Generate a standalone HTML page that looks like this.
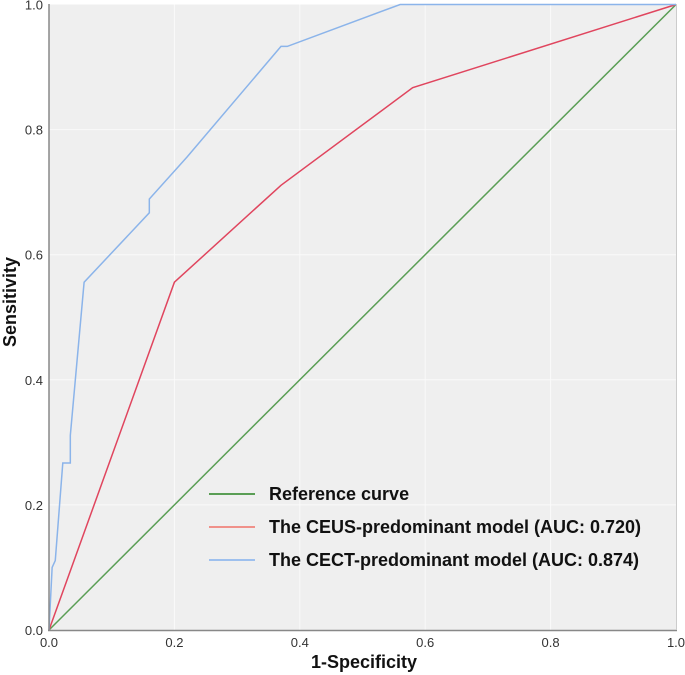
<!DOCTYPE html>
<html><head><meta charset="utf-8"><style>
html,body{margin:0;padding:0;background:#fff;}
svg{display:block;font-family:"Liberation Sans",Arial,sans-serif;}
</style></head><body>
<svg id="chart" width="685" height="675">
<rect x="49" y="4.5" width="627" height="625.5" fill="#efefef"/>
<g id="grid"></g>
<g id="curves"></g>
<line x1="49" y1="4" x2="49" y2="631" stroke="#888" stroke-width="1.5"/>
<line x1="48" y1="630.5" x2="677" y2="630.5" stroke="#888" stroke-width="1.5"/>
<line x1="676.5" y1="4" x2="676.5" y2="630" stroke="#ccc" stroke-width="1"/>
<g id="ticks" font-size="13" fill="#333"></g>
<text x="364" y="668" text-anchor="middle" font-size="18" font-weight="bold" fill="#111">1-Specificity</text>
<text transform="translate(16,302) rotate(-90)" text-anchor="middle" font-size="18" font-weight="bold" fill="#111">Sensitivity</text>
<g font-size="18" font-weight="bold" fill="#111">
<g><line x1="209" y1="494" x2="255" y2="494" stroke="#5a9e55" stroke-width="2"/><text x="269" y="500">Reference curve</text></g>
<g><line x1="209" y1="527" x2="255" y2="527" stroke="#f0918a" stroke-width="2"/><text x="269" y="533">The CEUS-predominant model (AUC: 0.720)</text></g>
<g><line x1="209" y1="560" x2="255" y2="560" stroke="#9ec0ee" stroke-width="2"/><text x="269" y="566">The CECT-predominant model (AUC: 0.874)</text></g>
</g>
</svg>
<script>
const ticks=[0,0.2,0.4,0.6,0.8,1.0];
const tickLabels=["0.0","0.2","0.4","0.6","0.8","1.0"];
const refX=[0,1];
const refY=[0,1];
const ceusX=[0,0.2,0.37,0.58,1];
const ceusY=[0,0.556,0.711,0.867,1];
const cectX=[0,0.005,0.01,0.022,0.034,0.034,0.056,0.16,0.16,0.22,0.37,0.38,0.56,1];
const cectY=[0,0.1,0.111,0.267,0.267,0.311,0.556,0.667,0.689,0.756,0.933,0.933,1,1];
const NS="http://www.w3.org/2000/svg";
const X0=49,X1=676,Y0=630,Y1=4.5;
function sx(v){return X0+v*(X1-X0);}
function sy(v){return Y0-v*(Y0-Y1);}
const grid=document.getElementById('grid'),tk=document.getElementById('ticks'),cv=document.getElementById('curves');
ticks.forEach((t,i)=>{
 if(t>0&&t<1){
  const g1=document.createElementNS(NS,'line');
  g1.setAttribute('x1',sx(t));g1.setAttribute('x2',sx(t));g1.setAttribute('y1',Y1);g1.setAttribute('y2',Y0);
  g1.setAttribute('stroke','#fafafa');g1.setAttribute('stroke-width','1');
  
  
  grid.appendChild(g1);
  const g2=document.createElementNS(NS,'line');
  g2.setAttribute('y1',sy(t));g2.setAttribute('y2',sy(t));g2.setAttribute('x1',X0);g2.setAttribute('x2',X1);
  g2.setAttribute('stroke','#fafafa');g2.setAttribute('stroke-width','1');
  
  
  grid.appendChild(g2);
 }
 const tx=document.createElementNS(NS,'text');
 tx.setAttribute('x',sx(t));tx.setAttribute('y',647);tx.setAttribute('text-anchor','middle');
 tx.textContent=tickLabels[i];
 
 
 tk.appendChild(tx);
 const ty=document.createElementNS(NS,'text');
 ty.setAttribute('x',43);ty.setAttribute('y',sy(t)+5);ty.setAttribute('text-anchor','end');
 ty.textContent=tickLabels[i];
 
 
 tk.appendChild(ty);
});
function curve(xs,ys,color,name){
 const p=document.createElementNS(NS,'polyline');
 p.setAttribute('points',xs.map((x,i)=>sx(x)+','+sy(ys[i])).join(' '));
 p.setAttribute('fill','none');p.setAttribute('stroke',color);p.setAttribute('stroke-width','1.5');
 
 
 cv.appendChild(p);
}
curve(refX,refY,'#5a9e55','reference-curve');
curve(ceusX,ceusY,'#e0455e','ceus-roc-curve');
curve(cectX,cectY,'#8bb4ea','cect-roc-curve');
</script>
</body></html>
